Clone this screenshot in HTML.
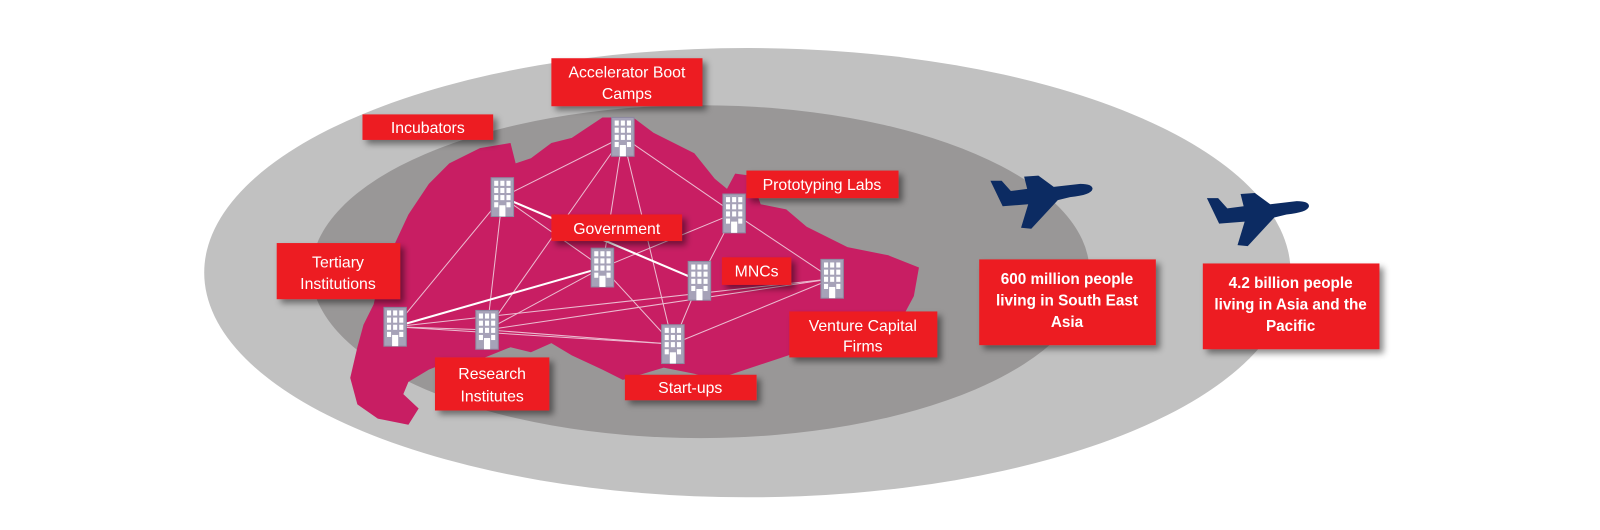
<!DOCTYPE html>
<html><head><meta charset="utf-8"><style>
html,body{margin:0;padding:0;background:#fff;width:1600px;height:530px;overflow:hidden}
svg{display:block}
text{font-family:"Liberation Sans",sans-serif;fill:#fff}
</style></head><body>
<svg width="1600" height="530" viewBox="0 0 1567 519" xmlns="http://www.w3.org/2000/svg">
<defs>
<filter id="sh" x="-20%" y="-20%" width="150%" height="160%"><feDropShadow dx="4" dy="4" stdDeviation="3" flood-color="#000" flood-opacity="0.45"/></filter>
<g id="bld">
<rect x="-11" y="-19" width="22" height="38" fill="#a6a2b8" stroke="#8d89a0" stroke-width="1"/>
<g fill="#fff">
<rect x="-8" y="-16" width="4" height="5"/><rect x="-2" y="-16" width="4" height="5"/><rect x="4" y="-16" width="4" height="5"/>
<rect x="-8" y="-9" width="4" height="5"/><rect x="-2" y="-9" width="4" height="5"/><rect x="4" y="-9" width="4" height="5"/>
<rect x="-8" y="-2" width="4" height="5"/><rect x="-2" y="-2" width="4" height="5"/><rect x="4" y="-2" width="4" height="5"/>
<rect x="-8" y="5" width="4" height="5"/><rect x="4" y="5" width="4" height="5"/><rect x="-3" y="8" width="6" height="11"/>
</g></g>
<path id="plane" d="M0,6 L11,6 L20,16 L36,14 L33,2 L47,1 L62,12 L88,9 Q100,9 100,14 Q99,20 78,22 L66,25 L40,53 L30,52 L37,29 L12,31 Z" fill="#0c2b62"/>
</defs>
<ellipse cx="732" cy="267" rx="532" ry="220" fill="#c1c1c1"/>
<ellipse cx="686" cy="266" rx="381" ry="163" fill="#999797"/>
<polygon fill="#c81e63" points="470,145 500,140 505,160 520,155 540,140 560,135 590,115 620,115 640,130 680,150 700,175 712,185 720,170 735,172 745,200 770,205 790,222 830,242 870,250 900,262 895,290 880,318 860,330 820,332 790,342 760,352 730,362 700,372 680,366 650,360 610,372 590,362 560,348 540,336 520,345 500,340 470,352 440,354 420,362 400,374 395,386 410,400 400,416 370,410 350,396 343,370 350,340 356,318 366,298 372,270 386,240 400,210 420,180 440,160"/>
<g stroke="#f2d8e4" stroke-width="1" opacity="0.85" fill="none">
<line x1="610" y1="134" x2="492" y2="193"/><line x1="610" y1="134" x2="477" y2="323"/><line x1="610" y1="134" x2="590" y2="262"/>
<line x1="610" y1="134" x2="659" y2="337"/><line x1="610" y1="134" x2="719" y2="209"/>
<line x1="492" y1="193" x2="387" y2="320"/><line x1="492" y1="193" x2="477" y2="323"/><line x1="492" y1="193" x2="590" y2="262"/>
<line x1="590" y1="262" x2="477" y2="323"/><line x1="590" y1="262" x2="659" y2="337"/><line x1="590" y1="262" x2="719" y2="209"/>
<line x1="719" y1="209" x2="685" y2="275"/><line x1="719" y1="209" x2="815" y2="273"/>
<line x1="685" y1="275" x2="659" y2="337"/><line x1="387" y1="320" x2="815" y2="273"/><line x1="387" y1="320" x2="477" y2="323"/>
<line x1="387" y1="320" x2="659" y2="337"/><line x1="477" y1="323" x2="659" y2="337"/><line x1="815" y1="273" x2="659" y2="337"/>
<line x1="815" y1="273" x2="477" y2="323"/>
</g>
<g stroke="#fff" stroke-width="2"><line x1="492" y1="193" x2="685" y2="275"/><line x1="590" y1="262" x2="387" y2="320"/></g>
<use href="#bld" x="610" y="134"/><use href="#bld" x="492" y="193"/><use href="#bld" x="719" y="209"/>
<use href="#bld" x="590" y="262"/><use href="#bld" x="685" y="275"/><use href="#bld" x="815" y="273"/>
<use href="#bld" x="387" y="320"/><use href="#bld" x="477" y="323"/><use href="#bld" x="659" y="337"/>
<use href="#plane" x="970" y="171"/><use href="#plane" x="1182" y="188"/>
<g fill="#ed1c24" filter="url(#sh)">
<rect x="540" y="57" width="148" height="47"/><rect x="355" y="112" width="128" height="25"/>
<rect x="731" y="167" width="149" height="27"/><rect x="540" y="210" width="128" height="26"/>
<rect x="707" y="252" width="68" height="27"/><rect x="271" y="238" width="121" height="55"/>
<rect x="773" y="305" width="145" height="45"/><rect x="426" y="350" width="112" height="52"/>
<rect x="612" y="367" width="129" height="25"/><rect x="959" y="254" width="173" height="84"/>
<rect x="1178" y="258" width="173" height="84"/>
</g>
<g font-size="15.5" text-anchor="middle">
<text x="614" y="76">Accelerator Boot</text><text x="614" y="97">Camps</text>
<text x="419" y="130">Incubators</text>
<text x="805" y="186">Prototyping Labs</text>
<text x="604" y="229">Government</text>
<text x="741" y="271">MNCs</text>
<text x="331" y="262">Tertiary</text><text x="331" y="283">Institutions</text>
<text x="845" y="324">Venture Capital</text><text x="845" y="344">Firms</text>
<text x="482" y="371">Research</text><text x="482" y="393">Institutes</text>
<text x="676" y="385">Start-ups</text>
</g>
<g font-size="15" font-weight="bold" text-anchor="middle">
<text x="1045" y="278">600 million people</text><text x="1045" y="299">living in South East</text><text x="1045" y="320">Asia</text>
<text x="1264" y="282">4.2 billion people</text><text x="1264" y="303">living in Asia and the</text><text x="1264" y="324">Pacific</text>
</g>
</svg>
</body></html>
